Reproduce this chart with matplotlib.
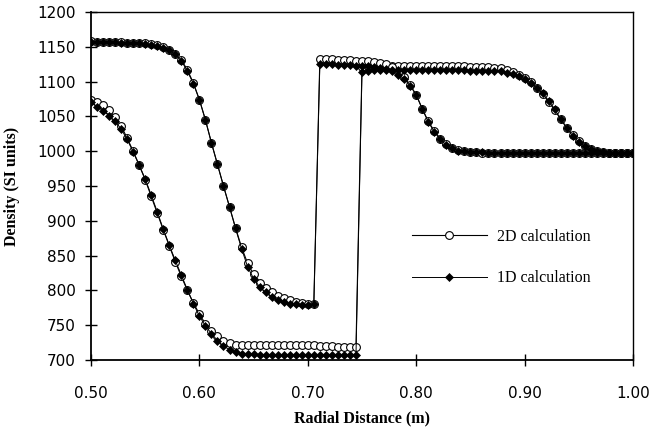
import numpy as np
import matplotlib.pyplot as plt
from matplotlib.lines import Line2D

# radial mesh (m)
r = np.linspace(0.5, 1.0, 91)

# density profile, earlier state (jump near 0.745 m)
rho_2d_a = [1073, 1071, 1066, 1059, 1049, 1036, 1019, 1000, 980, 959,
            935, 911, 887, 864, 841, 820, 800, 782, 766, 752,
            742, 734, 728, 724, 722, 721, 721, 721, 721, 721,
            721, 721, 721, 721, 721, 721, 721, 721, 720, 720,
            720, 719, 719, 719, 719, 1121, 1122, 1123, 1123, 1123,
            1123, 1123, 1123, 1123, 1123, 1123, 1123, 1123, 1122, 1122,
            1122, 1122, 1122, 1121, 1121, 1121, 1121, 1120, 1119, 1117,
            1114, 1110, 1105, 1099, 1091, 1082, 1071, 1059, 1046, 1034,
            1023, 1014, 1007, 1003, 1000, 999, 998, 998, 998, 998, 998]
rho_1d_a = [1071, 1064, 1058, 1051, 1043, 1032, 1017, 999, 980, 960,
            937, 913, 888, 865, 843, 822, 801, 781, 763, 749,
            738, 728, 720, 715, 711, 709, 708, 708, 707, 707,
            707, 707, 707, 707, 707, 707, 707, 707, 707, 707,
            707, 707, 707, 707, 707, 1114, 1115, 1116, 1116, 1116,
            1116, 1116, 1116, 1116, 1116, 1116, 1116, 1116, 1116, 1116,
            1116, 1116, 1116, 1115, 1115, 1115, 1115, 1115, 1115, 1113,
            1111, 1108, 1104, 1098, 1091, 1083, 1072, 1060, 1046, 1033,
            1022, 1013, 1007, 1003, 1000, 999, 998, 998, 998, 998, 998]

# density profile, later state (jump near 0.708 m)
rho_2d_b = [1158, 1157, 1157, 1157, 1157, 1157, 1156, 1156, 1156, 1155,
            1154, 1152, 1149, 1145, 1139, 1131, 1117, 1098, 1074, 1045,
            1012, 981, 950, 920, 890, 862, 839, 823, 811, 803,
            797, 792, 789, 786, 784, 782, 781, 781, 1132, 1132,
            1132, 1131, 1131, 1131, 1130, 1130, 1129, 1128, 1127, 1125,
            1121, 1114, 1106, 1095, 1081, 1061, 1043, 1029, 1018, 1010,
            1005, 1002, 1000, 999, 999, 998, 998, 998, 998, 998,
            998, 998, 998, 998, 998, 998, 998, 998, 998, 998,
            998, 998, 998, 998, 998, 998, 998, 998, 998, 998, 998]
rho_1d_b = [1157, 1157, 1157, 1157, 1157, 1156, 1156, 1156, 1155, 1154,
            1153, 1151, 1148, 1145, 1139, 1130, 1115, 1097, 1074, 1045,
            1012, 981, 950, 920, 889, 860, 834, 817, 805, 797,
            790, 786, 783, 781, 780, 779, 779, 780, 1125, 1125,
            1125, 1124, 1124, 1124, 1123, 1123, 1122, 1121, 1120, 1118,
            1115, 1110, 1104, 1094, 1081, 1061, 1042, 1028, 1017, 1009,
            1004, 1001, 1000, 999, 999, 999, 998, 998, 998, 998,
            998, 998, 998, 998, 998, 998, 998, 998, 998, 998,
            998, 998, 998, 998, 998, 998, 998, 998, 998, 998, 998]

x_ticks = [0.5, 0.6, 0.7, 0.8, 0.9, 1.0]
y_ticks = list(range(700, 1201, 50))

fig = plt.figure(figsize=(6.53, 4.30), dpi=100)
ax = fig.add_axes([91 / 653, 1 - 360 / 430, 542 / 653, 348 / 430])

style_2d = dict(color='black', lw=0.8, marker='o', ms=5.6,
                mfc='white', mec='black', mew=0.8)
style_1d = dict(color='black', lw=0.7, marker='D', ms=4.2,
                mfc='black', mec='black', mew=0.5)

for rho in (rho_2d_a, rho_2d_b):
    ax.plot(r, rho, zorder=2, **style_2d)
for rho in (rho_1d_a, rho_1d_b):
    ax.plot(r, rho, zorder=3, **style_1d)

ax.set_xlim(0.5, 1.0)
ax.set_ylim(700, 1200)
ax.set_xticks(x_ticks)
ax.set_xticklabels(['%.2f' % v for v in x_ticks])
ax.set_yticks(y_ticks)
ax.set_yticklabels([str(v) for v in y_ticks])

ax.tick_params(axis='x', direction='inout', length=8, width=1,
               pad=15, labelsize=11)
ax.tick_params(axis='y', direction='inout', length=8, width=1,
               pad=7, labelsize=11)
for s in ax.spines.values():
    s.set_linewidth(1.0)
ax.spines['left'].set_linewidth(1.3)
ax.spines['bottom'].set_linewidth(1.3)

ax.set_xlabel('Radial Distance (m)', family='Liberation Serif',
              fontweight='bold', fontsize=11.5)
ax.set_ylabel('Density (SI units)', family='Liberation Serif',
              fontweight='bold', fontsize=11.5)
ax.xaxis.set_label_coords(0.5, -0.145)
ax.yaxis.set_label_coords(-0.131, 0.5)

handles = [Line2D([], [], **style_2d), Line2D([], [], **style_1d)]
ax.legend(handles, ['2D calculation', '1D calculation'], loc='center left',
          bbox_to_anchor=(0.592, 0.2945), frameon=False, numpoints=1,
          handlelength=4.7, handletextpad=0.65, labelspacing=1.6,
          borderpad=0, borderaxespad=0,
          prop={'family': 'Liberation Serif', 'size': 11.5})

plt.savefig('out.png', dpi=100)
